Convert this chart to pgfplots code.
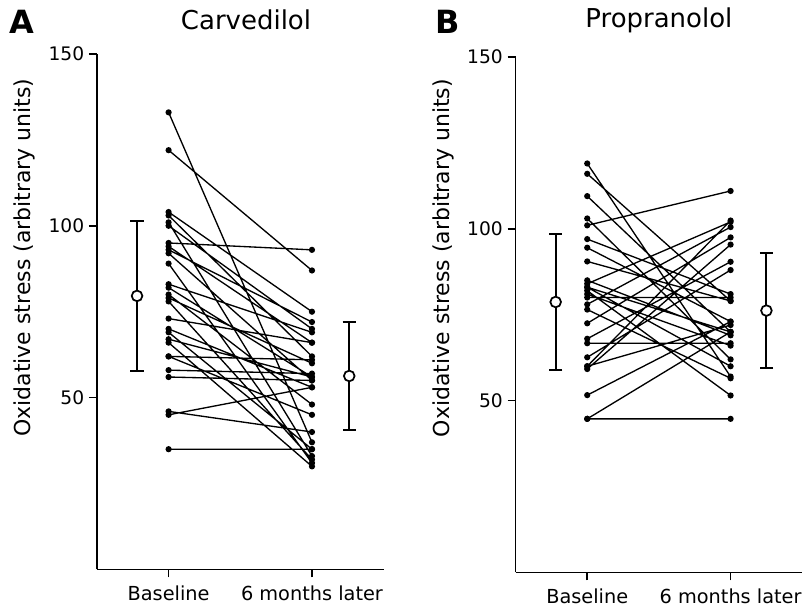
\documentclass[border=0pt]{standalone}
\usepackage{fontspec}
\setmainfont{DejaVu Sans}
\usepackage{pgfplots}
\pgfplotsset{compat=1.18}
\pgfplotsset{
  panel/.style={
    scale only axis, width=215.25pt, height=387pt,
    xmin=0.5, xmax=2.5, ymin=0, ymax=150,
    axis x line*=bottom, axis y line*=left,
    axis line style={line width=1.4pt, -},
    xtick={1,2}, xticklabels={Baseline, 6 months later},
    ytick={50,100,150}, yticklabels={50,100,150},
    tick align=outside, major tick length=6pt,
    tick style={line width=1.1pt, black},
    xticklabel style={font=\fontsize{14.5}{16}\selectfont, yshift=-3pt},
    yticklabel style={font=\fontsize{14}{15}\selectfont},
    ylabel={Oxidative stress (arbitrary units)},
    ylabel style={font=\fontsize{16.5}{18}\selectfont, anchor=center},
    title style={font=\fontsize{19.5}{22}\selectfont, anchor=center},
    clip=false,
    unbounded coords=jump,
  },
  subj/.style={black, line width=1.0pt, mark=*, mark size=1.8pt},
  sdbar/.style={black, mark=none, forget plot,
    error bars/.cd, y dir=both, y explicit,
    error bar style={line width=1.5pt, black},
    error mark options={rotate=90, black, line width=1.5pt, mark size=5pt}},
  meanmk/.style={only marks, mark=*, mark size=4pt,
    mark options={fill=white, draw=black, line width=1.3pt}},
}
\begin{document}
\begin{tikzpicture}
\path (0,0) rectangle (604.5pt,462pt);
\begin{axis}[panel, at={(72.75pt,34.5pt)}, anchor=south west,
  title={Carvedilol},
  title style={at={(axis description cs:0.52,1.05)}},
  ylabel style={at={(axis description cs:-0.254,0.605)}}]
\addplot[subj] coordinates {
(1,133) (2,37) (1.5,nan)
(1,122) (2,87) (1.5,nan)
(1,104) (2,75) (1.5,nan)
(1,103) (2,62) (1.5,nan)
(1,101) (2,33) (1.5,nan)
(1,100) (2,70) (1.5,nan)
(1,95) (2,93) (1.5,nan)
(1,94) (2,66) (1.5,nan)
(1,93) (2,72) (1.5,nan)
(1,92) (2,55) (1.5,nan)
(1,89) (2,31) (1.5,nan)
(1,83) (2,69) (1.5,nan)
(1,82) (2,56) (1.5,nan)
(1,80) (2,48) (1.5,nan)
(1,79) (2,60) (1.5,nan)
(1,78) (2,32) (1.5,nan)
(1,73) (2,66) (1.5,nan)
(1,70) (2,53) (1.5,nan)
(1,69) (2,35) (1.5,nan)
(1,67) (2,56) (1.5,nan)
(1,66) (2,30) (1.5,nan)
(1,62) (2,61) (1.5,nan)
(1,62) (2,45) (1.5,nan)
(1,58) (2,57) (1.5,nan)
(1,56) (2,55) (1.5,nan)
(1,45) (2,53) (1.5,nan)
(1,46) (2,40) (1.5,nan)
(1,35) (2,35)
};
\addplot[sdbar] coordinates {(0.78,79.6) +- (0,21.8)};
\addplot[sdbar] coordinates {(2.26,56.3) +- (0,15.8)};
\addplot[meanmk] coordinates {(0.78,79.6) (2.26,56.3)};
\end{axis}
\begin{axis}[panel, at={(387pt,32.25pt)}, anchor=south west,
  title={Propranolol},
  title style={at={(axis description cs:0.5,1.056)}},
  ylabel style={at={(axis description cs:-0.251,0.61)}}]
\addplot[subj] coordinates {
(1,119) (2,57) (1.5,nan)
(1,116) (2,79) (1.5,nan)
(1,109.5) (2,70) (1.5,nan)
(1,103) (2,62) (1.5,nan)
(1,101) (2,111) (1.5,nan)
(1,97) (2,81) (1.5,nan)
(1,94.5) (2,73) (1.5,nan)
(1,90.5) (2,79) (1.5,nan)
(1,84) (2,102) (1.5,nan)
(1,83) (2,70) (1.5,nan)
(1,82) (2,51.5) (1.5,nan)
(1,81) (2,66) (1.5,nan)
(1,80) (2,80) (1.5,nan)
(1,78) (2,100.5) (1.5,nan)
(1,76.5) (2,56.5) (1.5,nan)
(1,72.5) (2,97.5) (1.5,nan)
(1,66.7) (2,66.7) (1.5,nan)
(1,62.6) (2,88) (1.5,nan)
(1,60) (2,102.4) (1.5,nan)
(1,59.2) (2,95.4) (1.5,nan)
(1,60) (2,72) (1.5,nan)
(1,51.6) (2,73) (1.5,nan)
(1,44.7) (2,70) (1.5,nan)
(1,44.7) (2,44.7) (1.5,nan)
(1,85) (2,69) (1.5,nan)
(1,83) (2,60) (1.5,nan)
(1,68) (2,90.4)
};
\addplot[sdbar] coordinates {(0.78,78.7) +- (0,19.8)};
\addplot[sdbar] coordinates {(2.25,76.2) +- (0,16.8)};
\addplot[meanmk] coordinates {(0.78,78.7) (2.25,76.2)};
\end{axis}
\node[font=\bfseries\fontsize{24}{26}\selectfont] at (16.5pt,445.5pt) {A};
\node[font=\bfseries\fontsize{24}{26}\selectfont] at (336pt,445.5pt) {B};
\end{tikzpicture}
\end{document}
